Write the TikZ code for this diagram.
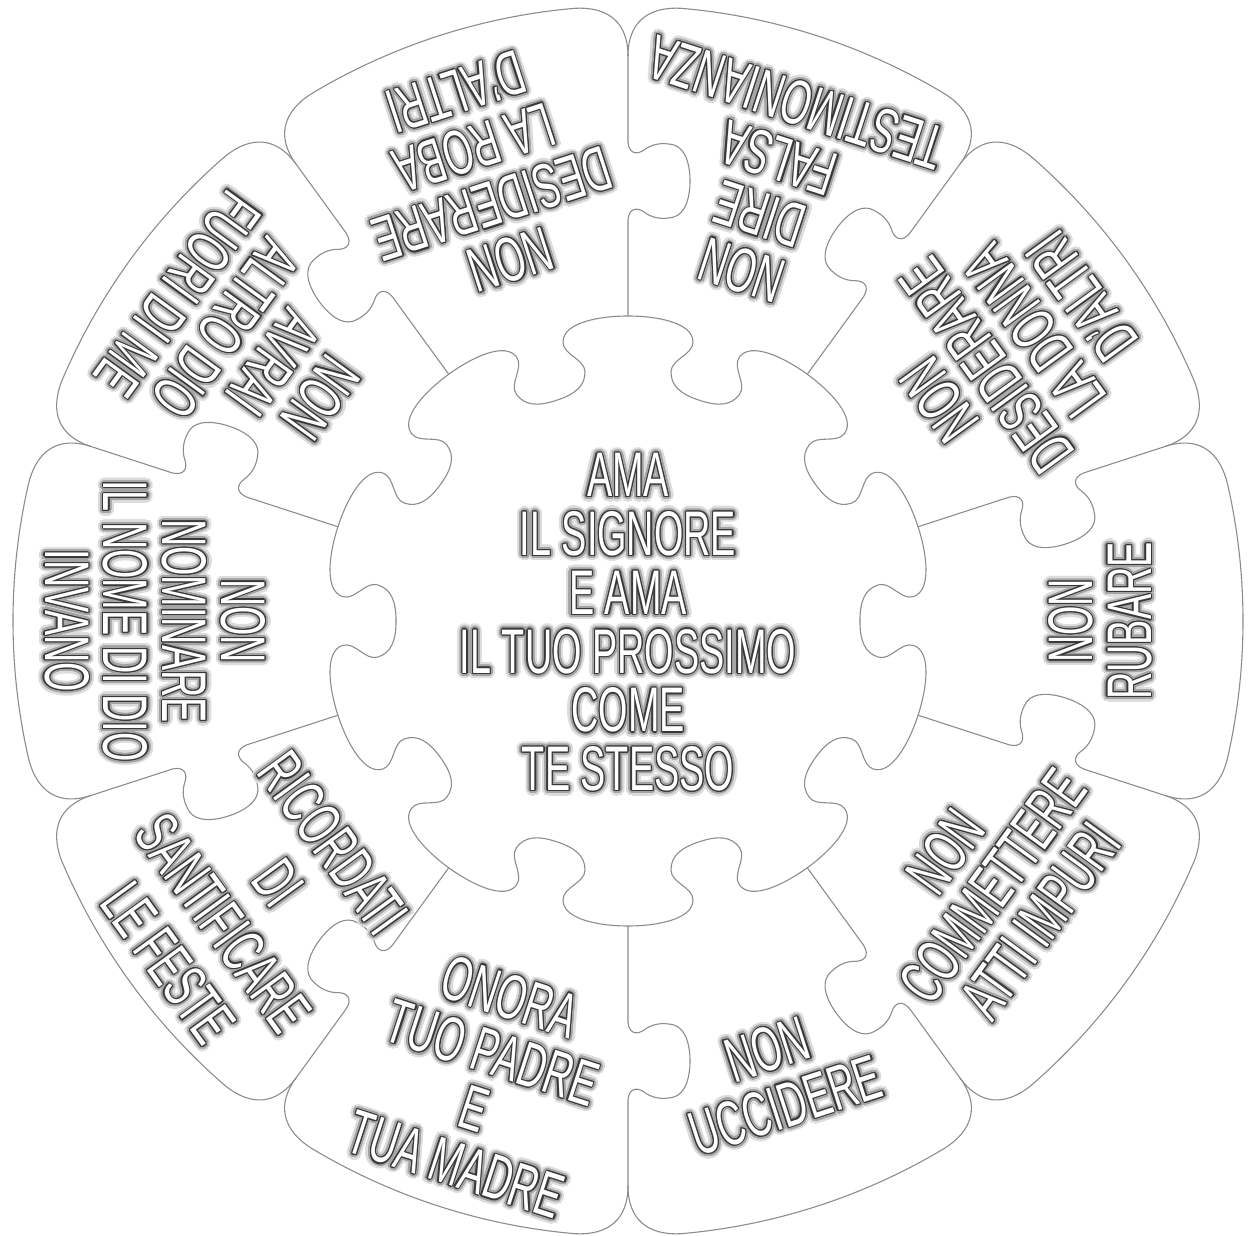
\documentclass[tikz,border=0pt]{standalone}
\usepackage{fontspec}
\newfontfamily\pzfont[FakeStretch=0.6]{Liberation Sans}
\usepackage{contour}
\definecolor{pzLine}{HTML}{8C8C8C}
\definecolor{pzEdge}{HTML}{383838}
\definecolor{pzGlowA}{HTML}{DCDCDC}
\definecolor{pzGlowB}{HTML}{A4A4A4}

% white letters, dark rim, soft grey halo
\newcommand\glw[1]{%
  \smash{%
    \rlap{\contourlength{5.5pt}\contournumber{20}\color{pzGlowA}\contour{pzGlowA}{#1}}%
    \rlap{\contourlength{3.2pt}\contournumber{16}\color{pzGlowB}\contour{pzGlowB}{#1}}%
    {\contourlength{1.15pt}\contournumber{12}\color{white}\contour{pzEdge}{#1}}}%
  \vphantom{A}}

\begin{document}
\begin{tikzpicture}[
  x=1pt, y=1pt,
  cutline/.style={draw=pzLine, line width=1.1pt},
  precept/.style={
    font=\pzfont\fontsize{63}{58.8}\selectfont,
    align=center, inner sep=0pt
  }
]
 \useasboundingbox (-628,-615) rectangle (622,621);

 % Middle piece: one knob on every cut line
 \foreach \k in {0,...,9} {
  \begin{scope}[rotate=36*\k-72]
   \draw[cutline] (-71.7,220.6) .. controls (-52.7,226.8) and (-43,235) .. (-43,249)
     .. controls (-43,262) and (-65,266) .. (-65,279)
     .. controls (-65,298) and (-30,305) .. (0,305)
     .. controls (30,305) and (65,298) .. (65,279)
     .. controls (65,266) and (43,262) .. (43,249)
     .. controls (43,235) and (52.7,226.8) .. (71.7,220.6);
  \end{scope}
 }

 % Cut lines between outer pieces, tab halfway out
 \foreach \k in {0,...,9} {
  \pgfmathsetmacro\side{1-2*mod(\k,2)}
  \begin{scope}[rotate=36*\k-72, xscale=\side]
   \draw[cutline] (0,305) -- (0,401)
     .. controls (1,413) and (9,414) .. (16,409)
     .. controls (24,403) and (34,401) .. (46,404)
     .. controls (58,408) and (62,424) .. (62,440)
     .. controls (62,456) and (58,472) .. (46,476)
     .. controls (34,479) and (24,477) .. (16,471)
     .. controls (9,466) and (1,467) .. (0,479)
     -- (0,565);
  \end{scope}
 }

 % Outer rims
 \foreach \b in {0,36,...,324} {
  \draw[cutline] ({\b-18}:565) .. controls ({\b-18}:598) and ({\b-16.2}:615) .. ({\b-13}:615)
    arc[start angle=\b-13, end angle=\b+13, radius=615pt]
    .. controls ({\b+16.2}:615) and ({\b+18}:598) .. ({\b+18}:565);
 }

 % Texts
 \node[precept] (ama) at (0,-1)
  {\glw{AMA}\\\glw{IL SIGNORE}\\\glw{E AMA}\\\glw{IL TUO PROSSIMO}\\\glw{COME}\\\glw{TE STESSO}};

 \node[precept, rotate=90] (rubare) at (0:472) {\glw{NON}\\\glw{RUBARE}};
 \node[precept, rotate=126] (donna) at (35.5:470)
  {\glw{NON}\\\glw{DESIDERARE}\\\glw{LA DONNA}\\\glw{D’ALTRI}};
 \node[precept, rotate=162] (falsa) at (72:457)
  {\glw{NON}\\\glw{DIRE}\\\glw{FALSA}\\\glw{TESTIMONIANZA}};
 \node[precept, rotate=198] (roba) at (108:468)
  {\glw{NON}\\\glw{DESIDERARE}\\\glw{LA ROBA}\\\glw{D’ALTRI}};
 \node[precept, rotate=234] (dio) at (144:468)
  {\glw{NON}\\\glw{AVRAI}\\\glw{ALTRO DIO}\\\glw{FUORI DI ME}};
 \node[precept, rotate=270] (nome) at (180:473)
  {\glw{NON}\\\glw{NOMINARE}\\\glw{IL NOME DI DIO}\\\glw{INVANO}};
 \node[precept, rotate=306, font=\pzfont\fontsize{63}{68}\selectfont] (feste) at (216.8:471)
  {\glw{RICORDATI}\\\glw{DI}\\\glw{SANTIFICARE}\\\glw{LE FESTE}};
 \node[precept, rotate=342] (onora) at (252.5:482)
  {\glw{ONORA}\\\glw{TUO PADRE}\\\glw{E}\\\glw{TUA MADRE}};
 \node[precept, rotate=18] (uccidere) at (288:480) {\glw{NON}\\\glw{UCCIDERE}};
 \node[precept, rotate=54] (impuri) at (324:451)
  {\glw{NON}\\\glw{COMMETTERE}\\\glw{ATTI IMPURI}};
\end{tikzpicture}
\end{document}
